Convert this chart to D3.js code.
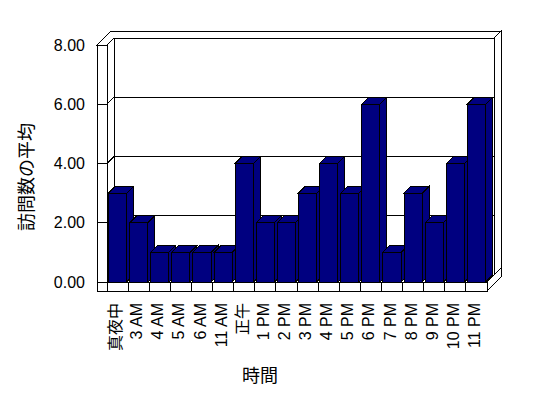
<!DOCTYPE html>
<html>
<head>
<meta charset="utf-8">
<script src="https://cdn.jsdelivr.net/npm/d3@7"></script>
<style>
  body { margin: 0; background: #fff; }
  svg text { font-family: "Liberation Sans", Arial, "Noto Sans CJK JP", sans-serif; fill: #000; }
</style>
</head>
<body>
<svg id="chart" width="548" height="398"></svg>
<script>
// data
let categories = ["真夜中", "3 AM", "4 AM", "5 AM", "6 AM", "11 AM", "正午", "1 PM", "2 PM",
    "3 PM", "4 PM", "5 PM", "6 PM", "7 PM", "8 PM", "9 PM", "10 PM", "11 PM"];
let values = [3, 2, 1, 1, 1, 1, 4, 2, 2, 3, 4, 3, 6, 1, 3, 2, 4, 6];
let yTicks = [0, 2, 4, 6, 8];

let svg = d3.select("#chart");

// front plane of the plot + oblique depth offset
let left = 107, right = 487, floorTop = 282, floorBottom = 291, wallOuter = 97;
let DX = 7, DY = 7;

let x = d3.scaleBand().domain(categories).range([left, right])
    .paddingInner(0.14).paddingOuter(0.07);
let y = d3.scaleLinear().domain([0, 8]).range([floorTop, 45]);
let step = x.step();
let x0 = (i) => left + i * step;
let yTop = y(8);

let pts = (a) => a.map((p) => p.join(",")).join(" ");
let g = svg.append("g").attr("shape-rendering", "crispEdges");

function poly(points, fill) {
    g.append("polygon").attr("points", pts(points))
        .attr("fill", fill).attr("stroke", "#000").attr("stroke-width", 1);
}
function line(x1, y1, x2, y2) {
    g.append("line").attr("x1", x1).attr("y1", y1).attr("x2", x2).attr("y2", y2)
        .attr("stroke", "#000").attr("stroke-width", 1);
}

// back wall (front face, right edge)
poly([[left + DX, yTop - DY], [right + DX, yTop - DY], [right + DX, floorTop - DY], [left + DX, floorTop - DY]], "#fff");
poly([[right + DX, yTop - DY], [right + 2 * DX, yTop - 2 * DY], [right + 2 * DX, floorTop - 2 * DY], [right + DX, floorTop - DY]], "#fff");

// left wall inner face
poly([[left, yTop], [left + DX, yTop - DY], [left + DX, floorTop - DY], [left, floorTop]], "#fff");

// gridlines
yTicks.filter((t) => t > 0 && t < 8).forEach((t) => {
    line(left, y(t), left + DX, y(t) - DY);
    line(left + DX, y(t) - DY, right + DX, y(t) - DY);
});

// floor top and right side
poly([[left, floorTop], [right, floorTop], [right + DX, floorTop - DY], [left + DX, floorTop - DY]], "#fff");
poly([[right, floorTop], [right, floorBottom], [right + 2 * DX, floorBottom - 2 * DY], [right + 2 * DX, floorTop - 2 * DY]], "#fff");

// bars
let navy = "#000080";
values.forEach((v, i) => {
    let bx = x(categories[i]), bw = x.bandwidth(), by = y(v);
    poly([[bx + bw, by], [bx + bw + DX, by - DY], [bx + bw + DX, floorTop - DY], [bx + bw, floorTop]], navy);
    poly([[bx, by], [bx + DX, by - DY], [bx + bw + DX, by - DY], [bx + bw, by]], navy);
    poly([[bx, by], [bx + bw, by], [bx + bw, floorTop], [bx, floorTop]], navy);
});

// floor front with category dividers
poly([[left, floorTop], [right, floorTop], [right, floorBottom], [left, floorBottom]], "#fff");
categories.forEach((c, i) => {
    if (i > 0) line(x0(i), floorTop, x0(i), floorBottom);
});

// left wall front face with ticks
poly([[wallOuter, yTop], [left, yTop], [left, floorBottom], [wallOuter, floorBottom]], "#fff");
yTicks.forEach((t) => line(wallOuter, y(t), left, y(t)));

// top edge of walls
poly([[wallOuter, yTop], [left, yTop], [left + DX, yTop - DY], [right + DX, yTop - DY],
    [right + 2 * DX, yTop - 2 * DY], [wallOuter + 2 * DX, yTop - 2 * DY]], "#fff");

// value labels
svg.append("g").selectAll("text").data(yTicks).join("text")
    .attr("x", 85).attr("y", (d) => y(d))
    .attr("text-anchor", "end").attr("dominant-baseline", "central")
    .attr("font-size", 16)
    .text((d) => d3.format(".2f")(d));

// category labels, rotated
svg.append("g").selectAll("text").data(categories).join("text")
    .attr("transform", (d) => `translate(${x(d) + x.bandwidth() / 2 - 2},${303}) rotate(-90)`)
    .attr("text-anchor", "end").attr("dominant-baseline", "central")
    .attr("font-size", 16)
    .text((d) => d);

// axis titles
svg.append("text")
    .attr("transform", "translate(27,177) rotate(-90)")
    .attr("text-anchor", "middle").attr("dominant-baseline", "central")
    .attr("font-size", 18)
    .text("訪問数の平均");

svg.append("text")
    .attr("x", 260).attr("y", 376)
    .attr("text-anchor", "middle").attr("dominant-baseline", "central")
    .attr("font-size", 18)
    .text("時間");
</script>
</body>
</html>
